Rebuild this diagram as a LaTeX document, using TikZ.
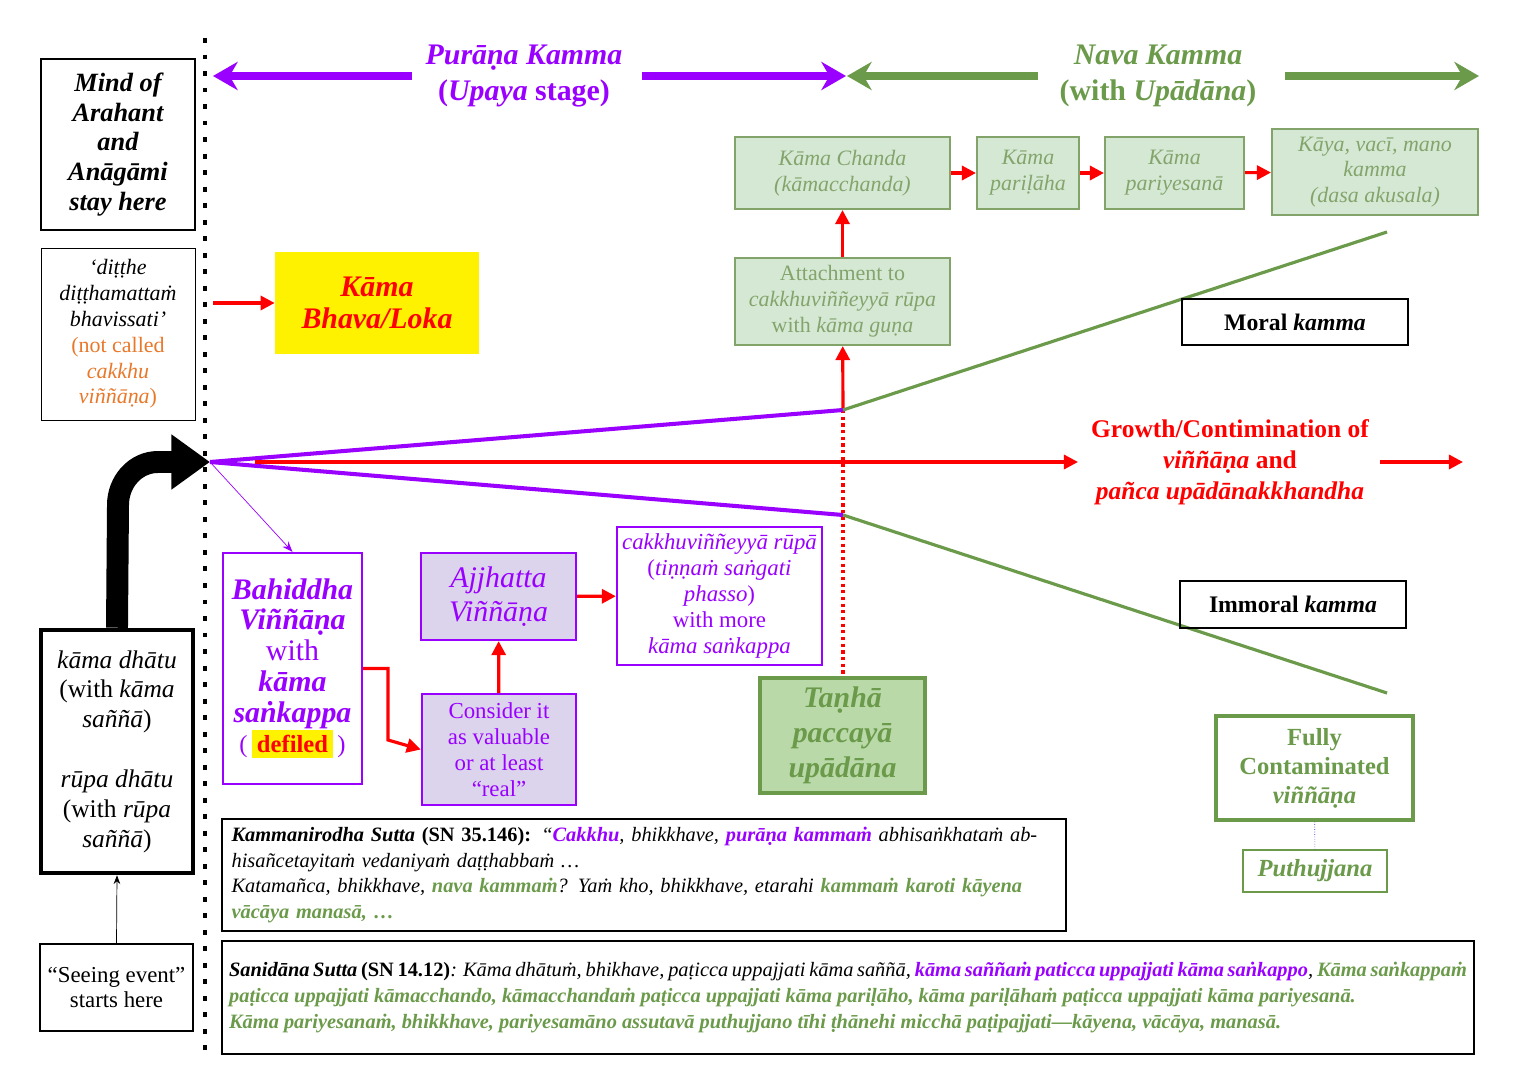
\documentclass[tikz,border=0pt]{standalone}
\usepackage{fontspec}
\setmainfont{Liberation Serif}
\usetikzlibrary{arrows.meta}
\definecolor{pkamma}{HTML}{9900FF}
\definecolor{nkamma}{HTML}{6A9A4A}
\definecolor{gtext}{HTML}{84A46C}
\definecolor{gfill}{HTML}{D5E8D4}
\definecolor{gline}{HTML}{82A36A}
\definecolor{lav}{HTML}{DCD3EC}
\definecolor{orng}{HTML}{E8782A}
\definecolor{tfill}{HTML}{B9D9A8}
\newcommand{\fsz}[2]{\fontsize{#1}{#2}\selectfont}
\tikzset{
  box/.style={draw, inner sep=0pt, align=center},
  gbox/.style={box, draw=gline, fill=gfill, line width=1.2pt, text=gtext, font=\fsz{12.5}{14.7}\itshape},
  pbox/.style={box, draw=pkamma, line width=1.3pt, text=pkamma},
  kbox/.style={box, line width=1.5pt, font=\fsz{13.5}{15}\bfseries},
  rarr/.style={red, line width=1.8pt, -{Triangle[length=8pt,width=8pt]}},
  big/.style={line width=4pt, -{Stealth[length=14pt,width=16pt]}},
}
\begin{document}
\begin{tikzpicture}[x=0.02cm,y=-0.02cm]
	\useasboundingbox (0,0) rectangle (1526,1078);
	%%dotted divider
	\draw[line width=2.8pt, dash pattern=on 2.8pt off 6.6pt] (205,38) -- (205,1052);
	%%left column
	\node[box, line width=1.5pt, minimum width=3.08cm, minimum height=3.42cm, font=\fsz{15}{17}\bfseries\itshape] (mind) at (118,144.5) {Mind of\\Arahant\\and\\Anāgāmi\\stay here};
	\node[box, minimum width=3.08cm, minimum height=3.44cm, font=\fsz{12.5}{14.7}\itshape] (ditthe) at (118,334) {‘diṭṭhe\\diṭṭhamattaṁ\\bhavissati’\\{\color{orng}\upshape(not called}\\{\color{orng}cakkhu}\\{\color{orng}viññāṇa\upshape)}};
	\node[box, draw=none, fill=yellow, text=red, minimum width=4.08cm, minimum height=2.04cm, font=\fsz{17}{18.5}\bfseries\itshape] (bhava) at (377,303) {Kāma\\Bhava/Loka};
	\node[box, line width=2.6pt, minimum width=3.04cm, minimum height=4.86cm, font=\fsz{14.5}{17}] (dhatu) at (117,751.5) {\textit{kāma dhātu}\\(with \textit{kāma}\\\textit{saññā})\\[17pt]\textit{rūpa dhātu}\\(with \textit{rūpa}\\\textit{saññā})};
	\node[box, line width=1.3pt, minimum width=3.06cm, minimum height=1.74cm, font=\fsz{13}{14.7}] (seeing) at (116.5,987.5) {“Seeing event”\\starts here};
	\coordinate (ditR) at (213,303);
	\draw[rarr] (ditR) -- (bhava.west);
	\draw[-{Stealth[length=5pt]}] (seeing.north) -- (dhatu.south);
	%%big bent arrow
	\coordinate (O) at (210,462);
	\draw[line width=12.5pt, -{Triangle[length=22pt,width=30pt]}] (dhatu.north) -- (118,505) to[out=90,in=180] (158,462) -- (O);
	%%headers
	\coordinate (pL) at (213,76); \coordinate (pA) at (412,76);
	\coordinate (pB) at (642,76); \coordinate (pR) at (846,76);
	\coordinate (gL) at (847,76); \coordinate (gA) at (1038,76);
	\coordinate (gB) at (1285,76); \coordinate (gR) at (1479,76);
	\draw[big, pkamma] (pA) -- (pL);
	\draw[big, pkamma] (pB) -- (pR);
	\draw[big, nkamma] (gA) -- (gL);
	\draw[big, nkamma] (gB) -- (gR);
	\node[text=pkamma, align=center, font=\fsz{17}{20.5}\bfseries] (purana) at (524,76) {\textit{Purāṇa Kamma}\\(\textit{Upaya} stage)};
	\node[text=nkamma, align=center, font=\fsz{17}{20.5}\bfseries] (nava) at (1158,76) {\textit{Nava Kamma}\\(with \textit{Upādāna})};
	%%green chain
	\node[gbox, minimum width=4.3cm, minimum height=1.44cm] (chanda) at (842.5,173) {Kāma Chanda\\(kāmacchanda)};
	\node[gbox, minimum width=2.04cm, minimum height=1.44cm] (parilaha) at (1028,173) {Kāma\\pariḷāha};
	\node[gbox, minimum width=2.78cm, minimum height=1.44cm] (pariyes) at (1174.5,173) {Kāma\\pariyesanā};
	\node[gbox, minimum width=4.12cm, minimum height=1.72cm] (kaya) at (1375,172) {Kāya, vacī, mano\\kamma\\(dasa akusala)};
	\node[gbox, font=\fsz{12.5}{14.7}, minimum width=4.3cm, minimum height=1.74cm] (attach) at (842.5,301.5) {Attachment to\\\textit{cakkhuviññeyyā rūpa}\\with \textit{kāma guṇa}};
	\draw[rarr] (chanda) -- (parilaha);
	\draw[rarr] (parilaha) -- (pariyes);
	\draw[rarr] (pariyes) -- (kaya);
	\draw[rarr] (attach) -- (chanda);
	%%fan
	\coordinate (up) at (843,410); \coordinate (dn) at (843,515);
	\coordinate (upE) at (1387,232); \coordinate (dnE) at (1387,693);
	\draw[red, line width=1.8pt, dotted] (up) -- (843,678);
	\draw[rarr] (up) -- (attach);
	\draw[pkamma, line width=2.3pt] (O) -- (up);
	\draw[pkamma, line width=2.3pt] (O) -- (dn);
	\draw[nkamma, line width=1.8pt] (up) -- (upE);
	\draw[nkamma, line width=1.8pt] (dn) -- (dnE);
	\coordinate (rS) at (255,462); \coordinate (rE) at (1078,462);
	\coordinate (rS2) at (1380,462); \coordinate (rE2) at (1463,462);
	\draw[rarr] (rS) -- (rE);
	\draw[rarr] (rS2) -- (rE2);
	\node[text=red, align=center, font=\fsz{14.5}{17.5}\bfseries] (growth) at (1230,462) {Growth/Contimination of\\\textit{viññāṇa} and\\\textit{pañca upādānakkhandha}};
	\node[kbox, minimum width=4.52cm, minimum height=0.92cm] (moral) at (1295,322) {Moral \textit{kamma}};
	\node[kbox, minimum width=4.52cm, minimum height=0.94cm] (immoral) at (1293,604.5) {Immoral \textit{kamma}};
	%%lower chain
	\node[pbox, minimum width=2.78cm, minimum height=4.62cm, font=\fsz{17}{17.5}] (bahid) at (292.5,668.5) {\textbf{\textit{Bahiddha}}\\\textbf{\textit{Viññāṇa}}\\with\\\textbf{\textit{kāma}}\\\textbf{\textit{saṅkappa}}\\{\fsz{14}{16}(\,\colorbox{yellow}{\color{red}\bfseries defiled}\,)}};
	\node[pbox, fill=lav, minimum width=3.1cm, minimum height=1.74cm, font=\fsz{17}{19.5}\itshape] (ajjh) at (498.5,596.5) {Ajjhatta\\Viññāṇa};
	\node[pbox, fill=lav, minimum width=3.08cm, minimum height=2.22cm, font=\fsz{13}{14.7}] (consider) at (499,749.5) {Consider it\\as valuable\\or at least\\“real”};
	\node[pbox, minimum width=4.1cm, minimum height=2.76cm, font=\fsz{13}{14.7}] (cakkhu) at (719.5,596) {\textit{cakkhuviññeyyā rūpā}\\(\textit{tiṇṇaṁ saṅgati}\\\textit{phasso})\\with more\\\textit{kāma saṅkappa}};
	\draw[pkamma, -{Stealth[length=6pt]}] (O) -- (bahid.north);
	\draw[rarr, sharp corners] (bahid.east) ++(0,0) -| (388,740) -- (consider.west);
	\draw[rarr] (consider) -- (ajjh);
	\draw[rarr] (ajjh) -- (cakkhu);
	\node[box, draw=nkamma, fill=tfill, line width=2.5pt, text=nkamma, minimum width=3.3cm, minimum height=2.3cm, font=\fsz{17}{19.8}\bfseries\itshape] (tanha) at (842.5,735.5) {Taṇhā\\paccayā\\upādāna};
	\node[box, draw=nkamma, line width=2pt, text=nkamma, minimum width=3.94cm, minimum height=2.08cm, font=\fsz{14}{16.5}\bfseries] (fully) at (1314.5,768) {Fully\\Contaminated\\\textit{viññāṇa}};
	\node[box, draw=nkamma, line width=0.8pt, text=nkamma, minimum width=2.88cm, minimum height=0.84cm, font=\fsz{14}{16}\bfseries\itshape] (puthu) at (1315,871) {Puthujjana};
	\draw[blue!60!gray, densely dotted] (fully) -- (puthu);
	%%sutta quotes
	\node[box, line width=1.3pt, minimum width=16.88cm, minimum height=2.24cm, text width=16.5cm, align=left, font=\fsz{11.6}{14.7}\itshape] (kamman) at (644,875) {\textbf{Kammanirodha Sutta \textup{(SN 35.146):}} “{\color{pkamma}\bfseries Cakkhu}, bhikkhave, {\color{pkamma}\bfseries purāṇa kammaṁ} abhisaṅkhataṁ abhisañcetayitaṁ vedaniyaṁ daṭṭhabbaṁ …\\Katamañca, bhikkhave, {\color{nkamma}\bfseries nava kammaṁ}? Yaṁ kho, bhikkhave, etarahi {\color{nkamma}\bfseries kammaṁ karoti kāyena vācāya manasā, …}};
	\node[box, line width=1.3pt, minimum width=25.04cm, minimum height=2.26cm, text width=24.76cm, align=justify, font=\fsz{11.6}{14.7}\itshape] (sanid) at (848,997.5) {\textbf{Sanidāna Sutta \textup{(SN 14.12)}}: Kāma dhātuṁ, bhikhave, paṭicca uppajjati kāma saññā, {\color{pkamma}\bfseries kāma saññaṁ paticca uppajjati kāma saṅkappo}, {\color{nkamma}\bfseries Kāma saṅkappaṁ paṭicca uppajjati kāmacchando, kāmacchandaṁ paṭicca uppajjati kāma pariḷāho, kāma pariḷāhaṁ paṭicca uppajjati kāma pariyesanā.}\\{\color{nkamma}\bfseries Kāma pariyesanaṁ, bhikkhave, pariyesamāno assutavā puthujjano tīhi ṭhānehi micchā paṭipajjati—kāyena, vācāya, manasā.}};
\end{tikzpicture}
\end{document}
